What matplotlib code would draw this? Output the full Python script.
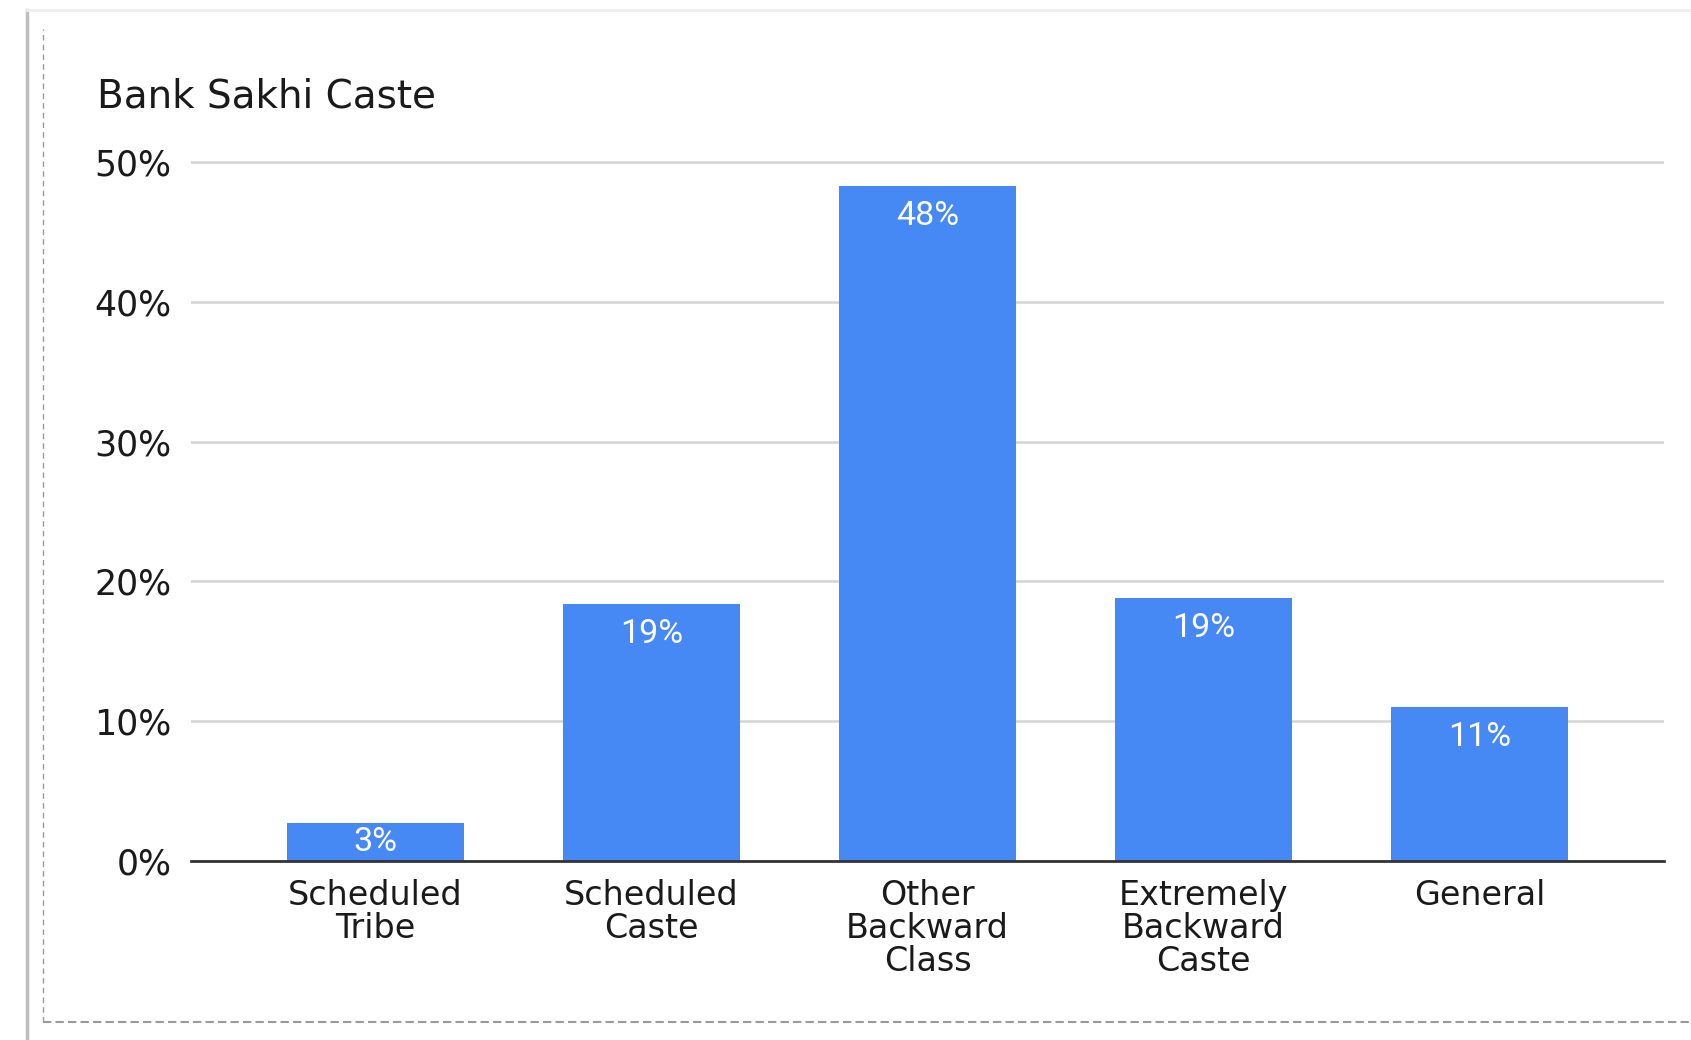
import matplotlib.pyplot as plt
from matplotlib.lines import Line2D

# ===== data =====
categories = ["Scheduled\nTribe", "Scheduled\nCaste", "Other\nBackward\nClass",
              "Extremely\nBackward\nCaste", "General"]
values = [2.7, 18.4, 48.3, 18.8, 11.0]
labels = ["3%", "19%", "48%", "19%", "11%"]
yticks = [0, 10, 20, 30, 40, 50]

BAR_COLOR = "#4688f4"
TXT = "#1a1a1a"

fig = plt.figure(figsize=(16.91, 10.40), dpi=100)
fig.patch.set_facecolor("white")

W, H = 1691, 1040
ax = fig.add_axes([191 / W, 1 - 861 / H, (1664 - 191) / W, (861 - 148) / H])

x = list(range(len(categories)))
ax.bar(x, values, width=0.64, color=BAR_COLOR, zorder=3)

ax.set_xlim(-0.667, len(categories) - 1 + 0.667)
ax.set_ylim(0, 51)
ax.set_yticks(yticks)
ax.set_yticklabels([f"{v}%" for v in yticks], fontsize=25, color=TXT)
ax.set_xticks(x)
ax.set_xticklabels(categories, fontsize=24, color=TXT, linespacing=0.99)
ax.tick_params(axis="both", length=0)
ax.tick_params(axis="y", pad=14)
ax.tick_params(axis="x", pad=13)

for s in ["top", "right", "left"]:
    ax.spines[s].set_visible(False)
ax.spines["bottom"].set_color("#333333")
ax.spines["bottom"].set_linewidth(2)
ax.spines["bottom"].set_zorder(4)
ax.yaxis.grid(True, color="#d4d4d4", linewidth=1.8, zorder=0)

# value labels inside bars
px_per_unit = (861 - 162) / 50
for xi, v, lab in zip(x, values, labels):
    bar_h = v * px_per_unit
    if bar_h < 60:
        ax.text(xi, v / 2, lab, ha="center", va="center", color="white",
                fontsize=24.5, family="Roboto", zorder=5)
    else:
        ax.annotate(lab, (xi, v), xytext=(0, -10), textcoords="offset points",
                    ha="center", va="top", color="white", fontsize=24.5,
                    family="Roboto", zorder=5)

fig.text(97 / W, 1 - 108 / H, "Bank Sakhi Caste", fontsize=28, color=TXT,
         va="baseline", ha="left")

# ===== frame decorations =====
fig.add_artist(Line2D([27 / W, 27 / W], [0, 1 - 10 / H], color="#bdbdbd", lw=2.5))
fig.add_artist(Line2D([27 / W, 1], [1 - 10 / H, 1 - 10 / H], color="#eeeeee", lw=2))
fig.add_artist(Line2D([43 / W, 43 / W], [1 - 1022 / H, 1 - 29 / H], color="#9a9a9a",
                      lw=1, ls=(0, (4, 3))))
fig.add_artist(Line2D([43 / W, 1], [1 - 1022 / H, 1 - 1022 / H], color="#9a9a9a",
                      lw=1.5, ls=(0, (4, 2))))

fig.savefig("out.png", dpi=100)
